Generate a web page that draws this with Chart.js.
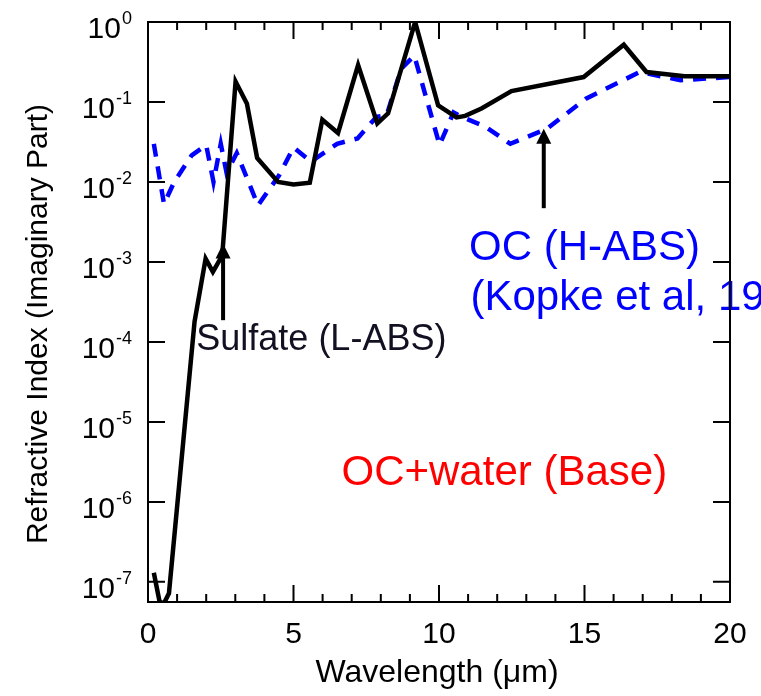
<!DOCTYPE html>
<html>
<head>
<meta charset="utf-8">
<script src="https://cdn.jsdelivr.net/npm/chart.js@4.4.0/dist/chart.umd.min.js"></script>
<style>
html, body { margin: 0; padding: 0; background: #fff; }
canvas { display: block; }
</style>
</head>
<body>
<canvas id="chart" width="761" height="696"></canvas>
<script>
// Sulfate (L-ABS), solid black
var sulfateX = [0.2, 0.4, 0.55, 0.72, 1.6, 1.98, 2.23, 2.55, 3.01, 3.4, 3.75, 4.47, 5.0, 5.56, 5.99, 6.53, 7.22, 7.88, 8.25, 9.18, 9.97, 10.6, 10.9, 11.46, 12.49, 14.97, 16.35, 17.13, 18.44, 20];
var sulfateY = [1.3e-7, 5.6e-8, 5.4e-8, 7.2e-8, 1.8e-4, 1.1e-3, 7.5e-4, 1.2e-3, 0.18, 0.095, 0.020, 0.010, 0.0093, 0.0098, 0.060, 0.041, 0.29, 0.054, 0.072, 1.0, 0.091, 0.064, 0.067, 0.083, 0.137, 0.205, 0.52, 0.237, 0.21, 0.21];

// OC (H-ABS), blue dashed
var ocX = [0.2, 0.55, 0.9, 1.5, 2.0, 2.25, 2.5, 2.7, 3.05, 3.78, 4.5, 5.0, 5.6, 6.5, 7.2, 7.85, 8.2, 8.7, 9.15, 10.02, 10.5, 10.75, 11.6, 12.45, 13.7, 15.05, 16.9, 18.3, 20];
var ocY = [0.030, 0.0053, 0.010, 0.0215, 0.029, 0.010, 0.030, 0.013, 0.023, 0.0051, 0.012, 0.027, 0.018, 0.030, 0.035, 0.065, 0.068, 0.26, 0.38, 0.029, 0.074, 0.066, 0.049, 0.030, 0.046, 0.11, 0.237, 0.187, 0.205];

var xTicks = [0, 1, 2, 3, 4, 5, 6, 7, 8, 9, 10, 11, 12, 13, 14, 15, 16, 17, 18, 19, 20];
var xTickLabels = [0, 5, 10, 15, 20];
var yTickExps = [0, -1, -2, -3, -4, -5, -6, -7];

var noteText = ['Sulfate (L-ABS)', 'OC (H-ABS)', '(Kopke et al, 1997)', 'OC+water (Base)'];
var noteX = [1.66, 11.03, 11.08, 6.65];
var noteY = [7.9e-5, 1.05e-3, 2.5e-4, 1.62e-6];
var noteColor = ['#111122', '#0000ff', '#0000ff', '#ff0000'];
var noteSize = [36, 42, 42, 42];

// arrows: x, from (tail) -> to (tip)
var arrowX = [2.58, 13.6];
var arrowFrom = [1.87e-4, 0.0047];
var arrowTo = [1.7e-3, 0.0464];

var FONT = '"Liberation Sans", Arial, Helvetica, sans-serif';

function pts(xs, ys) {
	var out = [];
	for (var i = 0; i < xs.length; i++) out.push({x: xs[i], y: ys[i]});
	return out;
}

var decorPlugin = {
	id: 'decor',
	afterDatasetsDraw: function(chart) {
		var ctx = chart.ctx;
		var xs = chart.scales.x, ys = chart.scales.y;
		var a = chart.chartArea;
		ctx.save();

		// notes
		ctx.textAlign = 'left';
		ctx.textBaseline = 'alphabetic';
		for (var i = 0; i < noteText.length; i++) {
			ctx.font = noteSize[i] + 'px ' + FONT;
			ctx.fillStyle = noteColor[i];
			ctx.fillText(noteText[i], xs.getPixelForValue(noteX[i]), ys.getPixelForValue(noteY[i]));
		}

		// arrows
		ctx.strokeStyle = '#000';
		ctx.fillStyle = '#000';
		ctx.lineWidth = 4;
		for (var j = 0; j < arrowX.length; j++) {
			var px = xs.getPixelForValue(arrowX[j]);
			var y0 = ys.getPixelForValue(arrowFrom[j]);
			var y1 = ys.getPixelForValue(arrowTo[j]);
			ctx.beginPath();
			ctx.moveTo(px, y0);
			ctx.lineTo(px, y1 + 10);
			ctx.stroke();
			ctx.beginPath();
			ctx.moveTo(px, y1);
			ctx.lineTo(px - 7.5, y1 + 15);
			ctx.lineTo(px + 7.5, y1 + 15);
			ctx.closePath();
			ctx.fill();
		}

		// frame
		ctx.lineWidth = 2;
		ctx.strokeRect(a.left, a.top, a.right - a.left, a.bottom - a.top);

		// inward ticks
		ctx.beginPath();
		xTicks.forEach(function(v) {
			var p = xs.getPixelForValue(v);
			var len = v % 5 === 0 ? 17 : 8;
			ctx.moveTo(p, a.bottom); ctx.lineTo(p, a.bottom - len);
			ctx.moveTo(p, a.top); ctx.lineTo(p, a.top + len);
		});
		yTickExps.forEach(function(e) {
			var p = ys.getPixelForValue(Math.pow(10, e));
			ctx.moveTo(a.left, p); ctx.lineTo(a.left + 17, p);
			ctx.moveTo(a.right, p); ctx.lineTo(a.right - 17, p);
		});
		ctx.stroke();

		// x tick labels
		ctx.fillStyle = '#000';
		ctx.font = '30px ' + FONT;
		ctx.textAlign = 'center';
		xTickLabels.forEach(function(v) {
			ctx.fillText(String(v), xs.getPixelForValue(v), a.bottom + 41);
		});

		// y tick labels 10^n
		yTickExps.forEach(function(e) {
			var p = ys.getPixelForValue(Math.pow(10, e));
			var sup = String(e);
			ctx.font = '18px ' + FONT;
			ctx.textAlign = 'right';
			var sw = ctx.measureText(sup).width;
			ctx.fillText(sup, 132, p + 2);
			ctx.font = '30px ' + FONT;
			ctx.fillText('10', 132 - sw - 1, p + 16);
		});

		// axis titles
		ctx.font = '32px ' + FONT;
		ctx.textAlign = 'center';
		ctx.fillText('Wavelength (\u03bcm)', (a.left + a.right) / 2 - 2, 682);
		ctx.font = '30px ' + FONT;
		ctx.translate(47, 324);
		ctx.rotate(-Math.PI / 2);
		ctx.fillText('Refractive Index (Imaginary Part)', 0, 0);

		ctx.restore();
	}
};

var ctx = document.getElementById('chart');
var chart = new Chart(ctx, {
	type: 'line',
	data: {
		datasets: [{
			label: 'Sulfate (L-ABS)',
			data: pts(sulfateX, sulfateY),
			borderColor: '#000',
			borderWidth: 4.5,
			borderJoinStyle: 'miter',
			pointRadius: 0,
			tension: 0
		}, {
			label: 'OC (H-ABS)',
			data: pts(ocX, ocY),
			borderColor: '#0000ff',
			borderWidth: 4.5,
			borderDash: [13, 10],
			pointRadius: 0,
			tension: 0
		}]
	},
	options: {
		responsive: false,
		animation: false,
		devicePixelRatio: 1,
		layout: { padding: { left: 0, top: 22, right: 31, bottom: 0 } },
		plugins: {
			legend: { display: false },
			tooltip: { enabled: false }
		},
		scales: {
			x: {
				type: 'linear',
				min: 0,
				max: 20,
				grid: { display: false },
				border: { display: false },
				ticks: { display: false },
				afterFit: function(s) { s.height = 94; }
			},
			y: {
				type: 'logarithmic',
				min: 5.6e-8,
				max: 1,
				grid: { display: false },
				border: { display: false },
				ticks: { display: false },
				afterFit: function(s) { s.width = 148; }
			}
		}
	},
	plugins: [decorPlugin]
});
</script>
</body>
</html>
